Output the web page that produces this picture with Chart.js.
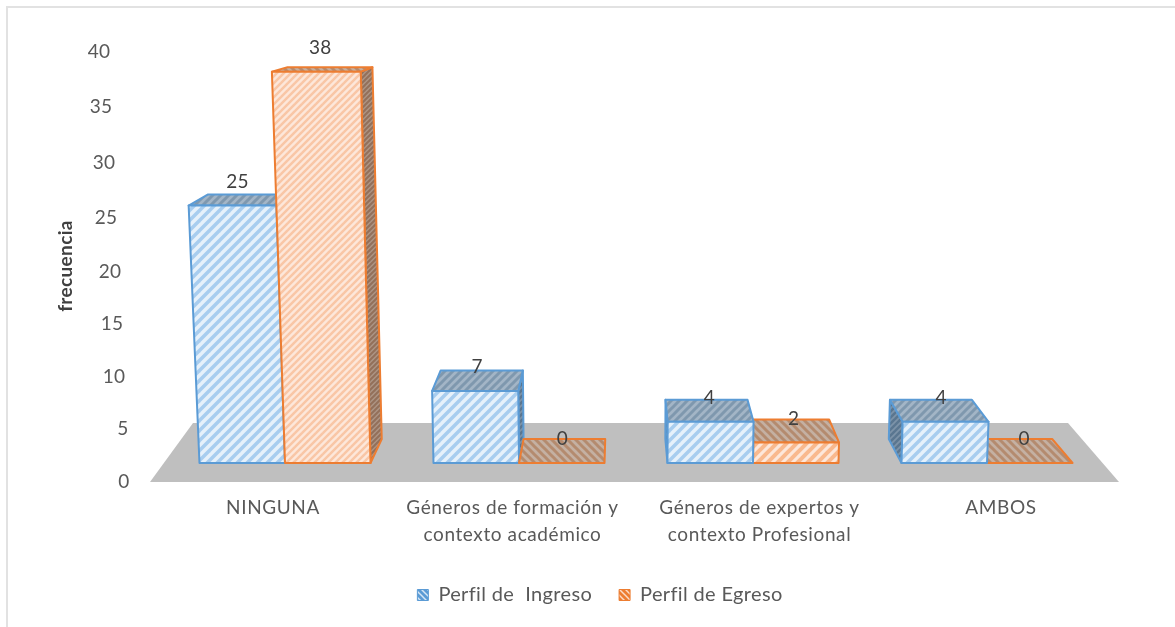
<!DOCTYPE html>
<html>
<head>
<meta charset="utf-8">
<script src="https://cdn.jsdelivr.net/npm/chart.js@4/dist/chart.umd.js"></script>
<style>
  body { margin: 0; background: #fff; }
  #frame { position: absolute; left: 6px; top: 6px; right: 0; bottom: 0; border-left: 2px solid #e2e2e2; border-top: 2px solid #e2e2e2; }
  canvas { position: absolute; left: 0; top: 0; }
</style>
</head>
<body>
<div id="frame"></div>
<canvas id="myChart" width="1175" height="627"></canvas>
<script>
const categories = ['NINGUNA', ['Géneros de formación y', 'contexto académico'], ['Géneros de expertos y', 'contexto Profesional'], 'AMBOS'];
const perfilIngreso = [25, 7, 4, 4];
const perfilEgreso = [38, 0, 2, 0];
const seriesNames = ['Perfil de  Ingreso', 'Perfil de Egreso'];

// the excel labels do not sit on a straight line, this moves them
const xLabelShift = [-12, -6.5, 6.5, 14];
const yLabelShift = [[-8, -0.3], [-9, 1], [-18, 3], [-20, 4], [-22, 6], [-26, 6], [-28, 5], [-31, 3], [-33, 1.7]];

const vanishX = 620;
const textColor = '#595959';

function hatch(bg, fg, p, lw, down) {
  const c = document.createElement('canvas');
  c.width = p; c.height = p;
  const g = c.getContext('2d');
  g.fillStyle = bg; g.fillRect(0, 0, p, p);
  g.strokeStyle = fg; g.lineWidth = lw;
  for (const o of [-p, 0, p]) {
    g.beginPath();
    if (down) { g.moveTo(o - 2, -2); g.lineTo(o + p + 2, p + 2); }
    else { g.moveTo(o - 2, p + 2); g.lineTo(o + p + 2, -2); }
    g.stroke();
  }
  return g.createPattern(c, 'repeat');
}

const styles = [
  { border: '#5b9bd5', face: hatch('#e6f1fb', '#a8cdef', 10, 3.5), faceWide: hatch('#e6f1fb', '#a8cdef', 10, 3.5), top: hatch('#a3b5c6', '#7f98ae', 8, 3), side: hatch('#7d93a8', '#5a7690', 6, 2.5) },
  { border: '#ed7d31', face: hatch('#fde7da', '#f9c6a6', 7, 2.5), faceWide: hatch('#fde7da', '#f9b98e', 10, 4), top: hatch('#c4b0a2', '#b48b6f', 8, 3, true), side: hatch('#ad9584', '#93705a', 5, 2) }
];

function quad(ctx, pts, fill, stroke) {
  ctx.beginPath();
  pts.forEach((p, i) => i ? ctx.lineTo(p[0], p[1]) : ctx.moveTo(p[0], p[1]));
  ctx.closePath();
  ctx.fillStyle = fill; ctx.fill();
  ctx.strokeStyle = stroke; ctx.lineWidth = 2; ctx.lineJoin = 'round'; ctx.stroke();
}

// fake 3d box on top of the element chart.js placed
function drawBox(ctx, bar, st) {
  const h = bar.base - bar.y;
  const left = bar.x - bar.width / 2, right = bar.x + bar.width / 2;
  const lean = x => -0.0001 * (vanishX - x) * h;
  const depthX = x => 0.045 * (vanishX - x);
  const depthY = 24 - 0.05 * h;
  const l2 = left + lean(left), r2 = right + lean(right);
  const A = [l2, bar.y], B = [r2, bar.y];
  const C = [r2 + depthX(r2), bar.y - depthY], D = [l2 + depthX(l2), bar.y - depthY];
  const E = [left, bar.base], F = [right, bar.base];
  if (h > 0 && depthX(r2) > 0) quad(ctx, [B, C, [right + depthX(right), bar.base - 24], F], st.side, st.border);
  if (h > 0 && depthX(l2) < 0) quad(ctx, [A, D, [left + depthX(left), bar.base - 24], E], st.side, st.border);
  quad(ctx, [A, B, C, D], st.top, st.border);
  if (h > 0) quad(ctx, [A, B, F, E], h < 50 ? st.faceWide : st.face, st.border);
}

const box3d = {
  id: 'box3d',
  beforeUpdate(chart) {
    chart.ctx.letterSpacing = '0.35px';
  },
  beforeDatasetsDraw(chart) {
    const ctx = chart.ctx, a = chart.chartArea;
    ctx.save();
    // floor
    ctx.beginPath();
    ctx.moveTo(a.left - 18, a.bottom);
    ctx.lineTo(a.left + 25, a.bottom - 59);
    ctx.lineTo(a.right - 36, a.bottom - 59);
    ctx.lineTo(a.right + 15, a.bottom);
    ctx.closePath();
    ctx.fillStyle = '#bfbfbf';
    ctx.fill();

    const m0 = chart.getDatasetMeta(0).data, m1 = chart.getDatasetMeta(1).data;
    m0.forEach((b0, i) => {
      const b1 = m1[i];
      // painter order depends on which side of the vanishing point the group is
      if (b0.x + b0.width / 2 < vanishX) { drawBox(ctx, b0, styles[0]); drawBox(ctx, b1, styles[1]); }
      else { drawBox(ctx, b1, styles[1]); drawBox(ctx, b0, styles[0]); }
    });

    // value labels
    ctx.fillStyle = '#404040';
    ctx.font = '19px Lato';
    ctx.textAlign = 'center';
    ctx.textBaseline = 'middle';
    [perfilIngreso, perfilEgreso].forEach((vals, d) => {
      chart.getDatasetMeta(d).data.forEach((b, i) => {
        const lean = -0.0001 * (vanishX - b.x) * (b.base - b.y);
        ctx.fillText(String(vals[i]), b.x + lean + 0.0135 * (vanishX - b.x), b.y - 24);
      });
    });

    // tick labels
    ctx.fillStyle = textColor;
    ctx.font = '19px Lato';
    const y = chart.scales.y, x = chart.scales.x;
    y.ticks.forEach((t, i) => {
      ctx.fillText(String(t.value), y.right + yLabelShift[i][0] - 36, y.getPixelForValue(t.value) + yLabelShift[i][1]);
    });
    ctx.letterSpacing = '0.6px';
    categories.forEach((c, i) => {
      const lines = [].concat(c);
      lines.forEach((s, j) => ctx.fillText(s, x.getPixelForTick(i) + xLabelShift[i], 508 + j * 27));
    });
    ctx.letterSpacing = '0.35px';
    ctx.restore();
    return false;
  }
};

new Chart(document.getElementById('myChart').getContext('2d'), {
  type: 'bar',
  data: {
    labels: categories,
    datasets: [
      { label: seriesNames[0], data: perfilIngreso, yAxisID: 'yBars', borderWidth: 1, borderColor: '#5b9bd5',
        backgroundColor: hatch('#5b9bd5', '#d6e6f5', 6, 1.5, true) },
      { label: seriesNames[1], data: perfilEgreso, yAxisID: 'yBars', borderWidth: 1, borderColor: '#ed7d31',
        backgroundColor: hatch('#ed7d31', '#fbdcc8', 6, 1.5, true) }
    ]
  },
  options: {
    responsive: false,
    animation: false,
    barPercentage: 1,
    categoryPercentage: 0.731,
    layout: { padding: { left: 54, right: 29, top: 50, bottom: 12 } },
    plugins: {
      tooltip: { enabled: false },
      legend: {
        position: 'bottom',
        labels: { boxWidth: 11, boxHeight: 11, padding: 27, color: textColor, font: { family: 'Lato', size: 20 } }
      }
    },
    scales: {
      x: {
        grid: { display: false }, border: { display: false }, ticks: { display: false },
        afterFit: s => { s.height = 76; }
      },
      y: {
        min: 0, max: 40,
        grid: { display: false }, border: { display: false },
        ticks: { display: false, stepSize: 5 },
        title: { display: true, text: 'frecuencia', color: '#404040', padding: 0, font: { family: 'Lato', size: 19, weight: 'bold' } },
        afterFit: s => { s.width = 114; }
      },
      yBars: {
        position: 'right', min: -1.845, max: 40.1,
        grid: { display: false }, border: { display: false }, ticks: { display: false },
        afterFit: s => { s.width = 42; }
      }
    }
  },
  plugins: [box3d]
});
</script>
</body>
</html>
